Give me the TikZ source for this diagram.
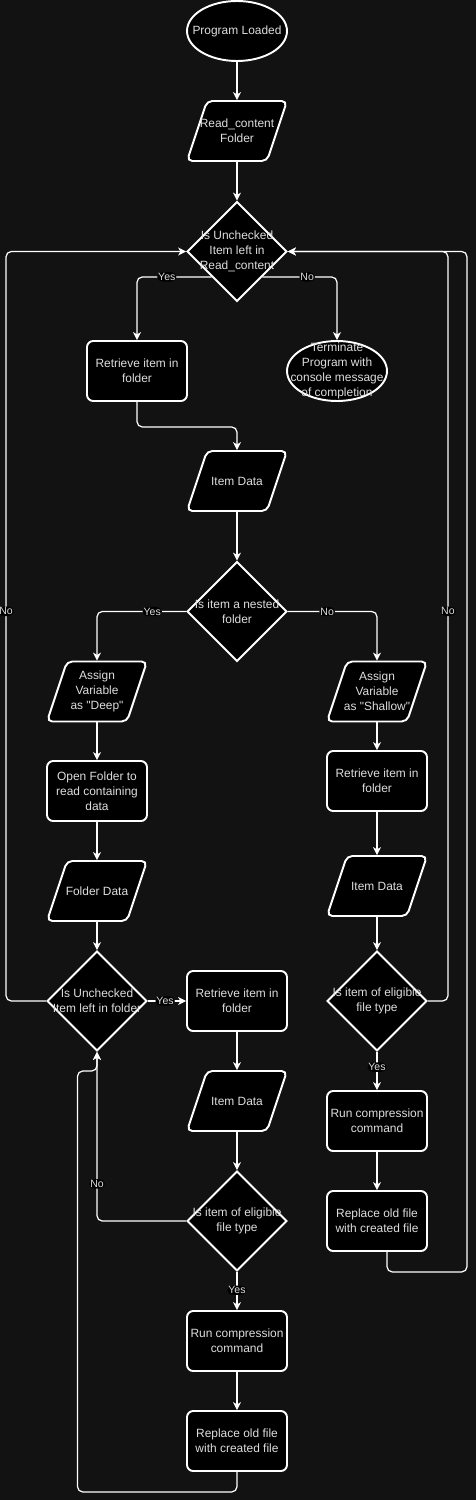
\documentclass[tikz,border=0pt]{standalone}
\usepackage{fontspec}
\newfontfamily\lsans{Liberation Sans}
\usetikzlibrary{shapes.geometric,arrows.meta}
\definecolor{bg}{RGB}{18,18,18}
\definecolor{txtc}{RGB}{222,222,222}
\tikzset{
 base/.style={draw=white, fill=black, line width=1.1pt, inner sep=0pt, text=txtc, align=center, font=\lsans\fontsize{6.8pt}{8.5pt}\selectfont},
 procbox/.style={base, rectangle, rounded corners=3.5pt, minimum width=2cm, minimum height=1.2cm},
 iobox/.style={base, trapezium, trapezium left angle=71.565, trapezium right angle=108.435, rounded corners=3pt, inner xsep=0.6cm, inner ysep=0.6cm},
 termbox/.style={base, ellipse, minimum width=2cm, minimum height=1.2cm},
 decbox/.style={base, diamond, aspect=1, minimum width=2cm, minimum height=2cm},
 ntext/.style={text=txtc, align=center, font=\lsans\fontsize{6.8pt}{8.5pt}\selectfont, inner sep=0pt},
 conn/.style={draw=white, line width=0.7pt, rounded corners=3pt, -{Stealth[length=4.5pt,width=4.5pt,inset=1.3pt]}},
 elab/.style={fill=black, text=txtc, font=\lsans\fontsize{6pt}{7pt}\selectfont, inner sep=0.6pt},
}
\begin{document}
\begin{tikzpicture}[x=0.02cm,y=-0.02cm]
\fill[bg] (0,0) rectangle (476,1500);
\useasboundingbox (0,0) rectangle (476,1500);

\node[termbox, label={[ntext]center:{Program Loaded}}] (start) at (237,31) {};
\node[iobox, label={[ntext]center:{Read\_content\\Folder}}] (rcf) at (237,131) {};
\node[decbox, label={[ntext]center:{Is Unchecked\\Item left in\\Read\_content}}] (d1) at (237,251.5) {};
\node[procbox] (r1) at (137,371) {Retrieve item in\\folder};
\node[termbox, label={[ntext]center:{Terminate\\Program with\\console message\\of completion}}] (term) at (337,371) {};
\node[iobox, label={[ntext]center:{Item Data}}] (id1) at (237,481) {};
\node[decbox, label={[ntext]center:{Is item a nested\\folder}}] (d2) at (237,611.5) {};
\node[iobox, label={[ntext]center:{Assign\\Variable\\as "Deep"}}] (avd) at (97,691.5) {};
\node[iobox, label={[ntext]center:{Assign\\Variable\\as "Shallow"}}] (avs) at (377,691.5) {};
\node[procbox] (of) at (97,791) {Open Folder to\\read containing\\data};
\node[iobox, label={[ntext]center:{Folder Data}}] (fd) at (97,891) {};
\node[procbox] (r2) at (377,781) {Retrieve item in\\folder};
\node[iobox, label={[ntext]center:{Item Data}}] (id2) at (377,886) {};
\node[decbox, label={[ntext]center:{Is Unchecked\\Item left in folder}}] (d3) at (97,1001) {};
\node[procbox] (r3) at (237,1001) {Retrieve item in\\folder};
\node[decbox, label={[ntext]center:{Is item of eligible\\file type}}] (d4) at (377,1001) {};
\node[procbox] (rc1) at (377,1121) {Run compression\\command};
\node[procbox] (rp1) at (377,1221) {Replace old file\\with created file};
\node[iobox, label={[ntext]center:{Item Data}}] (id3) at (237,1101) {};
\node[decbox, label={[ntext]center:{Is item of eligible\\file type}}] (d5) at (237,1221) {};
\node[procbox] (rc2) at (237,1341) {Run compression\\command};
\node[procbox] (rp2) at (237,1441) {Replace old file\\with created file};
\coordinate (bl) at (77.5,1071);

\draw[conn] (start.south) -- (rcf.north);
\draw[conn] (rcf.south) -- (d1.north);
\draw[conn] (d1.south west) -| node[elab,pos=0.3]{Yes} (r1.north);
\draw[conn] (d1.south east) -| node[elab,pos=0.3]{No} (term.north);
\draw[conn] (r1.south) -- ++(0,25) -| (id1.north);
\draw[conn] (id1.south) -- (d2.north);
\draw[conn] (d2.west) -| node[elab,pos=0.19]{Yes} (avd.north);
\draw[conn] (d2.east) -| node[elab,pos=0.22]{No} (avs.north);
\draw[conn] (avd.south) -- (of.north);
\draw[conn] (of.south) -- (fd.north);
\draw[conn] (fd.south) -- (d3.north);
\draw[conn] (avs.south) -- (r2.north);
\draw[conn] (r2.south) -- (id2.north);
\draw[conn] (id2.south) -- (d4.north);
\draw[conn] (d3.east) -- node[elab,pos=0.45]{Yes} (r3.west);
\draw[conn] (r3.south) -- (id3.north);
\draw[conn] (id3.south) -- (d5.north);
\draw[conn] (d5.west) -| node[elab,pos=0.61]{No} (d3.south);
\draw[conn] (d5.south) -- node[elab,pos=0.48]{Yes} (rc2.north);
\draw[conn] (rc2.south) -- (rp2.north);
\draw[conn] (rp2.south) -- ++(0,20) -| (bl) -| (d3.south);
\draw[conn] (d4.south) -- node[elab,pos=0.4]{Yes} (rc1.north);
\draw[conn] (rc1.south) -- (rp1.north);
\draw[conn] (d3.west) -- ++(-40,0) |- node[elab,pos=0.26]{No} (d1.west);
\draw[conn] (d4.east) -- ++(20,0) |- node[elab,pos=0.26]{No} (d1.east);
\draw[conn] ([xshift=0.2cm]rp1.south) -- ++(0,20) -- ++(80,0) |- (d1.east);
\end{tikzpicture}
\end{document}
